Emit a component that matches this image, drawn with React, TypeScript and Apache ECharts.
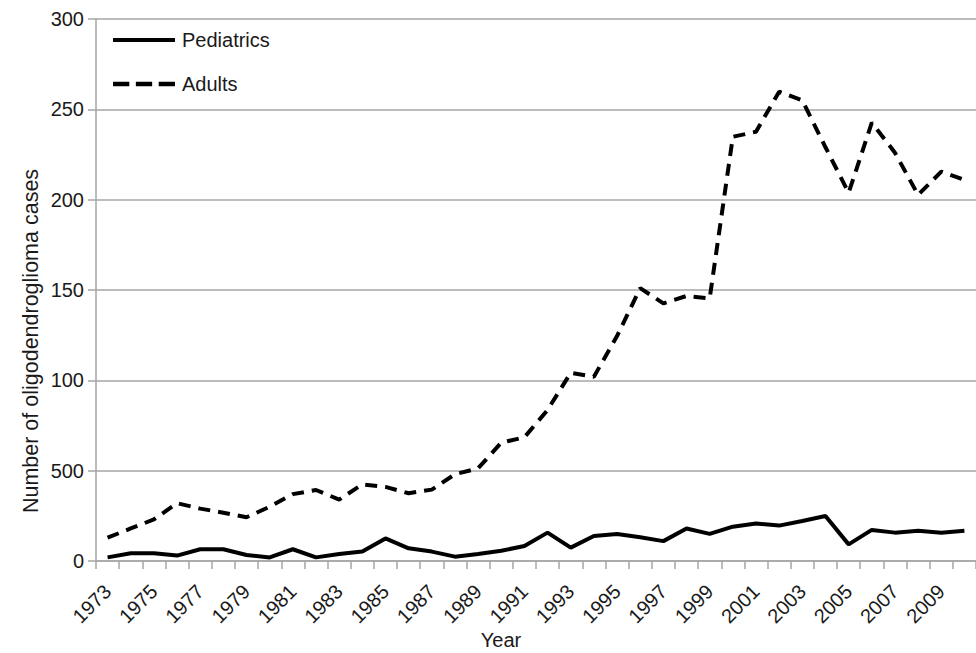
import React, { useEffect, useRef } from "react";
import * as echarts from "echarts";

const years = [
  "1973", "1974", "1975", "1976", "1977", "1978", "1979", "1980", "1981", "1982",
  "1983", "1984", "1985", "1986", "1987", "1988", "1989", "1990", "1991", "1992",
  "1993", "1994", "1995", "1996", "1997", "1998", "1999", "2000", "2001", "2002",
  "2003", "2004", "2005", "2006", "2007", "2008", "2009", "2010",
];

const pediatrics = [
  2, 4.3, 4.3, 3, 6.5, 6.5, 3.3, 2, 6.5, 2, 3.9, 5.2, 12.5, 7,
  5.2, 2.4, 3.9, 5.7, 8.3, 15.7, 7.4, 13.8, 15, 13.1, 11, 18, 15,
  19, 20.8, 19.6, 22.1, 24.9, 9.2, 17.2, 15.7, 16.8, 15.7, 16.8,
];

const adults = [
  12.9, 18, 23, 32, 29, 26.7, 24.2, 30, 37, 39.3, 34, 42.4, 41, 37.5,
  39.5, 48, 51.3, 65.5, 68.5, 83.6, 104.2, 102, 124.5, 151, 142.6, 146.7, 145.4,
  234.8, 237.6, 259.8, 255, 229, 203.8, 242.6, 226, 202.6, 215.5, 210.9,
];

// tick labels as printed in the original (including its "500" for 50)
const yTickValues = [0, 50, 100, 150, 200, 250, 300];
const yTickLabels = ["0", "500", "100", "150", "200", "250", "300"];

const FONT = "Liberation Sans, Arial, sans-serif";
const TEXT = "#1a1a1a";
const GRAY = "#a6a6a6";

const SOLID_ICON = "path://M0,0L62,0L62,4L0,4Z";
const DASH_ICON =
  "path://M0,0L15,0L15,4L0,4Z M21,0L36,0L36,4L21,4Z M42,0L57,0L57,4L42,4Z";

export default function App() {
  const ref = useRef<HTMLDivElement>(null);

  useEffect(() => {
    if (!ref.current) return;
    const chart = echarts.init(ref.current, undefined, { renderer: "svg" });
    chart.setOption({
      animation: false,
      backgroundColor: "#ffffff",
      textStyle: { fontFamily: FONT, color: TEXT },
      grid: { left: 96, top: 19, width: 889, bottom: 92, containLabel: false },
      legend: {
        data: [
          { name: "Pediatrics", icon: SOLID_ICON },
          { name: "Adults", icon: DASH_ICON },
        ],
        orient: "vertical",
        left: 113,
        top: 30,
        padding: 0,
        itemWidth: 62,
        itemHeight: 20,
        itemGap: 24,
        textStyle: { fontSize: 20, color: TEXT, fontFamily: FONT, padding: [0, 0, 0, 2] },
      },
      xAxis: {
        type: "category",
        data: years,
        boundaryGap: true,
        axisLine: { lineStyle: { color: GRAY, width: 1.5 } },
        axisTick: { show: true, interval: 0, length: 8, lineStyle: { color: GRAY, width: 1.5 } },
        axisLabel: {
          interval: 1,
          rotate: 45,
          margin: 27,
          fontSize: 20,
          color: TEXT,
          fontFamily: FONT,
        },
        splitLine: { show: false },
      },
      yAxis: {
        type: "value",
        min: 0,
        max: 300,
        interval: 50,
        axisLine: { show: true, lineStyle: { color: GRAY, width: 1.5 } },
        axisTick: { show: true, length: 8, lineStyle: { color: GRAY, width: 1.5 } },
        axisLabel: {
          margin: 12,
          fontSize: 20,
          color: TEXT,
          fontFamily: FONT,
          formatter: (v: number) => {
            const i = yTickValues.indexOf(v);
            return i >= 0 ? yTickLabels[i] : String(v);
          },
        },
        splitLine: { show: true, lineStyle: { color: GRAY, width: 1.5 } },
      },
      graphic: [
        {
          type: "text",
          x: 31,
          y: 341,
          rotation: Math.PI / 2,
          style: {
            text: "Number of oligodendroglioma cases",
            fontSize: 21.5,
            fontFamily: FONT,
            fill: TEXT,
            align: "center",
            verticalAlign: "middle",
          },
        },
        {
          type: "text",
          x: 501,
          y: 640,
          style: {
            text: "Year",
            fontSize: 20,
            fontFamily: FONT,
            fill: TEXT,
            align: "center",
            verticalAlign: "middle",
          },
        },
      ],
      series: [
        {
          name: "Pediatrics",
          type: "line",
          data: pediatrics,
          symbol: "none",
          showSymbol: false,
          itemStyle: { color: "#000000" },
          lineStyle: { color: "#000000", width: 4, type: "solid" },
        },
        {
          name: "Adults",
          type: "line",
          data: adults,
          symbol: "none",
          showSymbol: false,
          itemStyle: { color: "#000000" },
          lineStyle: { color: "#000000", width: 4, type: [12, 8] },
        },
      ],
    });
    return () => chart.dispose();
  }, []);

  return (
    <div
      ref={ref}
      style={{ position: "fixed", left: 0, top: 0, width: 976, height: 653 }}
    />
  );
}
